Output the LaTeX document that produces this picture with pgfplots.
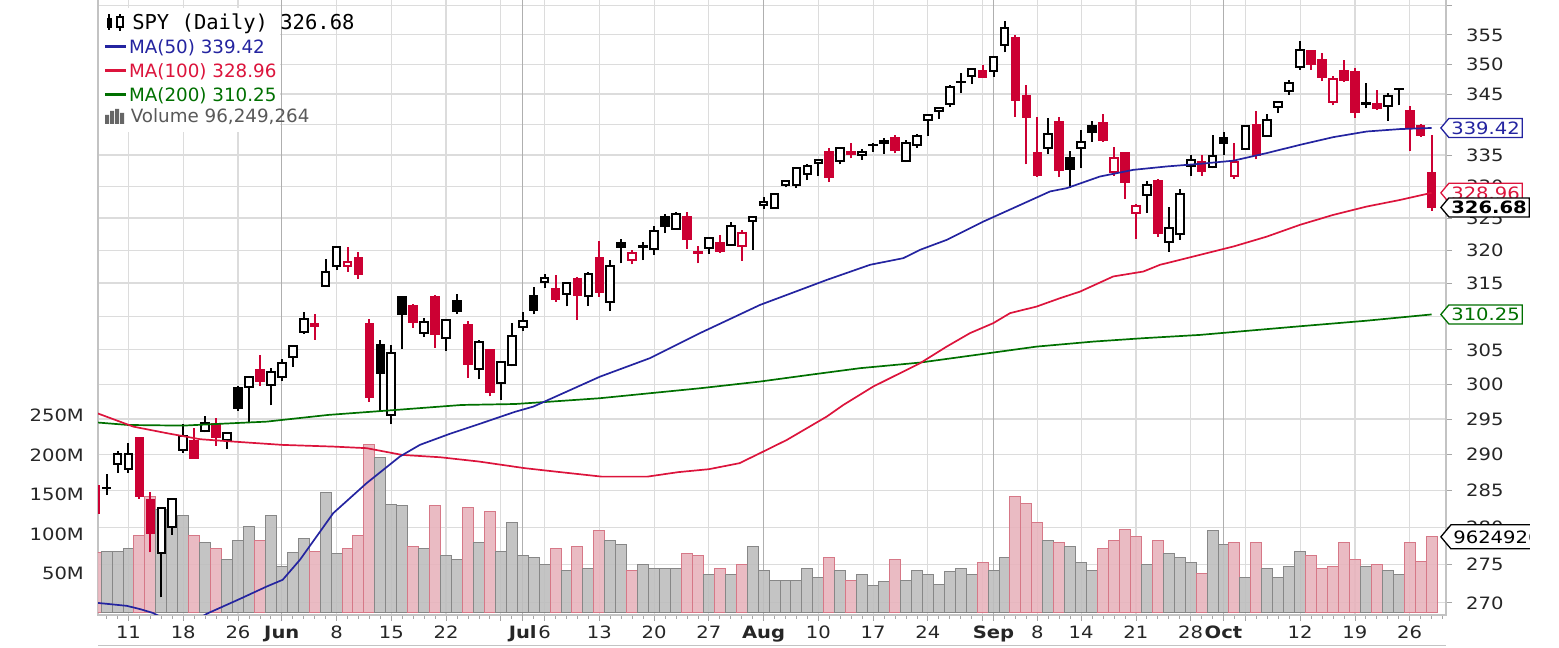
\documentclass[border=0pt]{standalone}
\usepackage{fontspec}
\usepackage{pgfplots}
\usepackage{pgfplotstable}
\pgfplotsset{compat=1.18}
\usetikzlibrary{shapes.symbols}
\newfontfamily\tickfont{DejaVu Sans}[FakeStretch=1.15]
\newfontfamily\legfont{DejaVu Sans}
\newfontfamily\legmono{DejaVu Sans Mono}
\definecolor{candred}{RGB}{204,0,51}
\definecolor{ma50}{RGB}{36,36,160}
\definecolor{ma100}{RGB}{220,20,60}
\definecolor{ma200}{RGB}{0,112,0}
\definecolor{vpink}{RGB}{232,180,188}
\definecolor{vpinkd}{RGB}{214,120,135}
\definecolor{vgray}{RGB}{190,190,190}
\definecolor{vgrayd}{RGB}{135,135,135}
\definecolor{gridc}{RGB}{220,220,220}
\definecolor{gridm}{RGB}{175,175,175}
\definecolor{framec}{RGB}{195,195,195}

% x = trading day (0 = May 11), o h l c = price, v = volume in millions
\pgfplotstableread{
x o h l c v
-3 285.64 286.05 281.41 281.97 76
-2 285.35 287.36 284.37 285.30 78
-1 288.66 290.50 287.44 290.00 78
0 287.92 291.55 287.46 290.06 81
1 292.26 292.51 283.86 284.28 98
2 283.67 284.79 276.64 279.25 147
3 276.62 282.73 270.71 282.59 131
4 280.01 283.94 278.99 283.89 118
5 290.60 294.27 290.26 292.54 123
6 291.89 293.73 289.51 289.53 98
7 293.35 295.38 293.10 294.45 89
8 294.31 295.18 291.24 292.42 81
9 292.11 293.16 290.77 292.97 67
10 299.41 299.67 296.20 296.58 91
11 299.60 301.04 294.39 301.00 109
12 302.11 304.28 299.72 300.44 91
13 299.93 302.41 296.97 301.78 123
14 301.08 303.65 300.53 303.00 58
15 303.99 305.56 302.55 305.51 76
16 307.65 310.60 307.35 309.57 94
17 308.51 310.39 306.50 308.76 78
18 314.58 318.59 314.51 316.67 153
19 317.55 320.71 316.96 320.50 75
20 317.63 320.58 316.69 318.11 81
21 318.74 319.70 315.56 316.34 98
22 308.86 309.54 297.51 298.10 213
23 305.67 306.50 296.11 301.67 197
24 295.53 305.71 294.26 304.49 137
25 312.85 313.00 305.10 310.35 136
26 311.45 311.77 308.26 309.06 84
27 307.42 309.69 306.93 309.18 81
28 312.92 313.13 305.31 307.41 136
29 306.76 309.55 304.84 309.38 72
30 312.24 313.25 310.37 310.81 67
31 308.60 309.27 300.90 302.88 133
32 302.26 306.41 300.68 306.12 89
33 304.94 305.17 298.23 298.85 128
34 300.21 303.39 297.74 303.25 78
35 302.78 308.96 302.61 307.13 114
36 308.33 310.65 307.84 309.28 72
37 312.99 314.44 310.27 310.98 70
38 315.11 316.41 314.30 315.79 61
39 314.12 316.25 312.12 312.53 81
40 313.36 315.04 311.45 314.92 53
41 315.58 315.84 309.44 313.13 84
42 313.06 316.61 311.51 316.32 56
43 318.85 321.42 312.88 313.58 104
44 312.05 318.48 310.76 317.65 92
45 321.12 321.75 318.00 320.57 87
46 318.51 320.00 317.82 319.51 53
47 320.60 321.28 318.46 320.44 61
48 320.15 323.83 319.34 323.03 56
49 325.15 325.63 322.65 323.71 56
50 323.32 325.89 323.21 325.56 56
51 325.17 325.92 320.20 321.67 75
52 319.67 320.71 317.98 319.60 72
53 320.35 322.12 319.49 321.93 48
54 321.14 322.35 319.57 319.89 56
55 320.84 324.43 320.80 323.82 48
56 320.62 323.12 318.37 322.67 61
57 324.60 325.33 320.05 325.22 84
58 327.01 328.31 326.42 327.48 53
59 326.55 328.74 326.55 328.74 41
60 330.15 331.06 329.86 330.79 41
61 330.16 333.13 329.81 333.00 41
62 331.95 333.54 330.97 333.23 56
63 333.72 334.43 331.63 334.23 45
64 335.51 336.19 330.69 331.47 70
65 334.10 336.35 333.52 336.09 53
66 335.26 336.90 334.49 335.49 41
67 335.07 336.07 334.28 335.50 48
68 336.59 336.99 335.51 336.56 34
69 336.99 337.75 335.27 337.29 39
70 337.70 338.26 335.28 335.88 67
71 334.02 337.45 333.88 336.93 41
72 336.57 338.37 336.20 338.13 53
73 340.76 341.63 338.10 341.55 48
74 342.16 342.84 340.90 342.75 36
75 343.38 346.47 342.80 346.18 52
76 347.12 348.50 345.15 346.94 56
77 348.05 349.32 346.76 349.18 48
78 348.95 349.90 347.67 347.92 64
79 348.95 351.30 347.85 351.19 53
80 353.26 357.32 352.02 356.27 70
81 354.45 354.96 341.22 344.01 147
82 344.75 346.44 333.53 341.20 139
83 335.37 341.27 331.55 331.88 114
84 336.20 341.09 335.27 338.43 92
85 340.46 341.16 331.52 332.56 89
86 334.48 335.63 329.68 332.73 84
87 336.14 339.02 332.89 337.11 64
88 339.76 340.66 337.12 338.81 53
89 340.15 341.69 337.17 337.47 81
90 332.23 336.35 331.66 334.50 92
91 335.37 335.49 327.97 330.65 106
92 325.70 327.13 321.73 326.97 97
93 328.57 330.90 325.86 330.30 61
94 330.90 331.20 322.10 322.64 92
95 321.22 326.80 319.80 323.50 75
96 322.58 329.58 321.64 328.73 70
97 333.22 334.96 331.60 334.19 64
98 333.97 335.00 331.66 332.37 50
99 333.09 338.29 332.88 334.89 104
100 337.69 338.74 335.01 337.04 87
101 331.70 337.01 331.19 333.84 89
102 336.06 339.96 336.01 339.76 45
103 339.91 342.17 334.31 334.93 89
104 338.12 341.63 338.09 340.76 56
105 342.85 343.85 341.86 343.78 45
106 345.56 347.35 344.89 346.85 58
107 349.59 354.02 349.06 352.43 78
108 352.28 352.47 349.09 350.13 72
109 350.75 351.93 347.14 347.93 56
110 343.71 348.02 343.13 347.50 58
111 348.96 350.75 347.10 347.29 89
112 348.65 349.33 341.04 342.01 67
113 343.46 346.88 342.64 343.38 58
114 343.33 345.67 342.40 342.73 61
115 342.96 345.24 340.65 344.61 53
116 345.93 345.99 343.13 345.78 48
117 342.13 342.98 335.62 339.39 89
118 339.76 340.12 337.99 338.22 65
119 332.10 338.25 326.13 326.68 96.249264
}\spy

\newcommand\getrow[1]{%
  \pgfplotstablegetelem{#1}{x}\of\spy\edef\cX{\pgfplotsretval}%
  \pgfplotstablegetelem{#1}{o}\of\spy\edef\cO{\pgfplotsretval}%
  \pgfplotstablegetelem{#1}{h}\of\spy\edef\cH{\pgfplotsretval}%
  \pgfplotstablegetelem{#1}{l}\of\spy\edef\cL{\pgfplotsretval}%
  \pgfplotstablegetelem{#1}{c}\of\spy\edef\cC{\pgfplotsretval}%
  \pgfplotstablegetelem{#1}{v}\of\spy\edef\cV{\pgfplotsretval}%
  \ifnum#1=0 \edef\cP{283.80}\else
    \pgfmathtruncatemacro\prevrow{#1-1}%
    \pgfplotstablegetelem{\prevrow}{c}\of\spy\edef\cP{\pgfplotsretval}\fi
  \pgfmathtruncatemacro\dn{\cC<\cP ? 1 : 0}%
  \pgfmathtruncatemacro\fl{\cC<\cO ? 1 : 0}%
}

\newcommand\tfont{\tickfont\fontsize{4.25}{4.25}\selectfont}
\tikzset{callout/.style={signal, signal to=west, signal pointer angle=100,
  fill=white, line width=0.325pt, inner xsep=0.625pt, inner ysep=0pt,
  minimum height=4.75pt, anchor=west, xshift=-1.5pt, font=\tfont}}

\begin{document}
\begin{tikzpicture}[x=0.25pt,y=0.25pt]
\useasboundingbox (0,0) rectangle (1559,648);
\pgfplotsset{base/.style={at={(24.5pt,8.25pt)}, anchor=south west, scale only axis,
  width=337pt, height=155pt, xmin=-2.785, xmax=120.32}}

% ---------- grid, frame and price ticks ----------
\begin{axis}[base, ymode=log, ymin=268.44, ymax=361.91,
  axis line style={draw=framec, line width=0.375pt},
  ytick={270,275,280,285,290,295,300,305,310,315,320,325,330,335,340,345,350,355,360},
  yticklabels={270,275,280,285,290,295,300,305,,315,320,325,330,335,,345,350,355,},
  ytick pos=right, yticklabel pos=right, yminorticks=false,
  xtick={0,5,10,19,24,29,34,38,43,48,53,63,68,73,78,83,87,92,97,102,107,112,117},
  xticklabels={11,18,26,8,15,22,,6,13,20,27,10,17,24,,8,14,21,28,,12,19,26},
  extra x ticks={14,36,58,79,100},
  extra x tick labels={Jun,Jul,Aug,Sep,Oct},
  extra x tick style={major grid style={draw=gridm, line width=0.3pt},
     xticklabel style={font=\tfont\bfseries}},
  xtick pos=bottom, minor xtick={-2,-1,...,120},
  xmajorgrids, ymajorgrids,
  major grid style={draw=gridc, line width=0.3pt},
  tick align=outside, major tick length=1.5pt, minor tick length=1pt,
  tick style={draw=gray!70, line width=0.2pt},
  tick label style={font=\tfont, text=black!85},
  xticklabel style={yshift=2.25pt},
]
\addplot[draw=none, forget plot] coordinates {(0,300)};
\end{axis}

% ---------- volume ----------
\begin{axis}[base, ymin=-2.92, ymax=783.9,
  axis line style={draw=none}, xtick=\empty,
  ytick={50,100,150,200,250}, yticklabels={50M,100M,150M,200M,250M},
  ytick pos=left, major tick length=0pt,
  tick label style={font=\tfont, text=black!85},
  clip mode=individual]
\pgfplotsforeachungrouped \i in {0,...,122}{%
  \getrow{\i}%
  \pgfmathsetmacro\xa{\cX-0.5}\pgfmathsetmacro\xb{\cX+0.5}%
  \ifnum\dn=1 \def\vf{vpink}\def\vd{vpinkd}\else\def\vf{vgray}\def\vd{vgrayd}\fi
  \edef\temp{\noexpand\addplot[draw=\vd, fill=\vf, fill opacity=0.9, line width=0.25pt, forget plot]
     coordinates {(\xa,0) (\xb,0) (\xb,\cV) (\xa,\cV)} -- cycle;}%
  \temp
}
\node[callout, draw=black, minimum height=6pt] at (axis cs:120.32,96.249264) {96249264};
\end{axis}
% the chart image ends at x = 1529 px: the volume tag is cut there
\fill[white] (1529.5,95) rectangle (1559,130);

% ---------- candles and moving averages ----------
\begin{axis}[base, ymode=log, ymin=268.44, ymax=361.91, hide axis, clip mode=individual]
\pgfplotsforeachungrouped \i in {0,...,122}{%
  \getrow{\i}%
  \pgfmathsetmacro\xl{\cX-0.35}\pgfmathsetmacro\xr{\cX+0.35}%
  \ifnum\dn=1 \def\ccol{candred}\else\def\ccol{black}\fi
  \ifnum\fl=1 \let\cfill\ccol\else\def\cfill{white}\fi
  \edef\temp{%
    \noexpand\addplot[draw=\ccol, line width=0.5pt, forget plot] coordinates {(\cX,\cL) (\cX,\cH)};%
    \noexpand\addplot[draw=\ccol, fill=\cfill, line width=0.5pt, forget plot]
       coordinates {(\xl,\cO) (\xr,\cO) (\xr,\cC) (\xl,\cC)} -- cycle;}%
  \temp
}
\addplot[ma200, line width=0.425pt] coordinates {(-2.8,294.50) (-0.02,294.17) (5.0,294.07) (8.05,294.31) (12.62,294.64) (18.25,295.59) (24.34,296.30) (30.43,297.02) (35.3,297.16) (38.49,297.49) (43.06,297.98) (47.63,298.70) (52.19,299.42) (57.67,300.38) (62.24,301.35) (66.8,302.32) (72.28,303.14) (77.46,304.26) (82.94,305.48) (88.11,306.22) (92.68,306.73) (97.85,307.21) (106.99,308.5) (113,309.3) (119,310.25)};
\addplot[ma100, line width=0.425pt] coordinates {(-2.8,295.8) (0.44,293.93) (3.49,293.00) (6.53,292.15) (9.57,291.82) (14.08,291.35) (18.7,291.11) (21.75,290.89) (24.97,289.95) (28.47,289.63) (31.98,289.02) (36.18,288.10) (39.0,287.63) (43.2,286.94) (47.4,286.94) (50.2,287.55) (53.0,287.96) (55.8,288.79) (57.67,290.19) (60.11,292.05) (63.76,295.35) (65.28,297.02) (68.02,299.66) (72.28,303.05) (74.72,305.48) (76.85,307.46) (78.98,308.95) (80.50,310.44) (82.94,311.43) (85.07,312.70) (86.89,313.69) (89.93,315.97) (92.68,316.73) (94.2,317.75) (97.85,319.29) (100.9,320.57) (103.95,322.12) (106.99,323.94) (110.03,325.50) (113.08,326.81) (116.12,327.86) (119,328.96)};
\addplot[ma50, line width=0.425pt] coordinates {(-2.8,269.98) (-0.16,269.61) (1.05,269.19) (2.26,268.67) (4.8,266.8) (7.29,268.67) (10.18,270.52) (12.62,272.13) (14.08,273.01) (15.66,275.66) (18.70,281.93) (21.75,286.03) (24.79,289.73) (26.62,291.36) (29.36,292.91) (32.1,294.33) (35.3,296.03) (36.97,296.78) (43.06,301.10) (47.62,303.78) (52.19,307.46) (57.67,311.69) (63.76,315.46) (67.72,317.75) (70.76,318.78) (72.28,320.06) (74.72,321.60) (78.06,324.45) (81.11,326.81) (84.16,329.18) (85.68,329.72) (88.72,331.57) (91.76,332.64) (94.81,333.17) (97.85,333.60) (100.89,334.13) (103.95,335.33) (106.99,336.68) (110.03,337.92) (113.08,338.84) (116.12,339.23) (119,339.42)};
\node[callout, draw=ma50, text=ma50] at (axis cs:120.32,339.42) {339.42};
\node[callout, draw=ma100, text=ma100] at (axis cs:120.32,328.96) {328.96};
\node[callout, draw=black, text=black, font=\tfont\bfseries] at (axis cs:120.32,326.68) {326.68};
\node[callout, draw=ma200, text=ma200] at (axis cs:120.32,310.25) {310.25};
\end{axis}

% ---------- legend ----------
\fill[white] (99,640) rectangle (280,516);
\draw[black, line width=0.35pt] (109,618) -- (109,634);
\fill[black] (106.5,620) rectangle (111.5,630);
\draw[black, line width=0.35pt] (120,617) -- (120,621) (120,631) -- (120,634);
\draw[black, line width=0.35pt, fill=white] (117,621) rectangle (123,631);
\node[anchor=base west, inner sep=0pt, font=\legmono\fontsize{5.125}{5.125}\selectfont] at (131.5,618) {SPY (Daily) 326.68};
\draw[ma50, line width=0.75pt] (105,601.3) -- (126,601.3);
\node[anchor=base west, inner sep=0pt, text=ma50, font=\legfont\fontsize{4.575}{4.575}\selectfont] at (128.3,594.6) {MA(50) 339.42};
\draw[ma100, line width=0.75pt] (105,577.2) -- (126,577.2);
\node[anchor=base west, inner sep=0pt, text=ma100, font=\legfont\fontsize{4.575}{4.575}\selectfont] at (128.3,570.5) {MA(100) 328.96};
\draw[ma200, line width=0.75pt] (105,553.5) -- (126,553.5);
\node[anchor=base west, inner sep=0pt, text=ma200, font=\legfont\fontsize{4.575}{4.575}\selectfont] at (128.3,546.8) {MA(200) 310.25};
\fill[black!60] (105,524) rectangle (109,533) (110,524) rectangle (114,537) (115,524) rectangle (119,539) (120,524) rectangle (124,535);
\node[anchor=base west, inner sep=0pt, text=black!65, font=\legfont\fontsize{4.575}{4.575}\selectfont] at (130,525) {Volume 96,249,264};
% lower rule under the date labels
\draw[framec, line width=0.3pt] (98,2.3) -- (1446,2.3);
\end{tikzpicture}
\end{document}
